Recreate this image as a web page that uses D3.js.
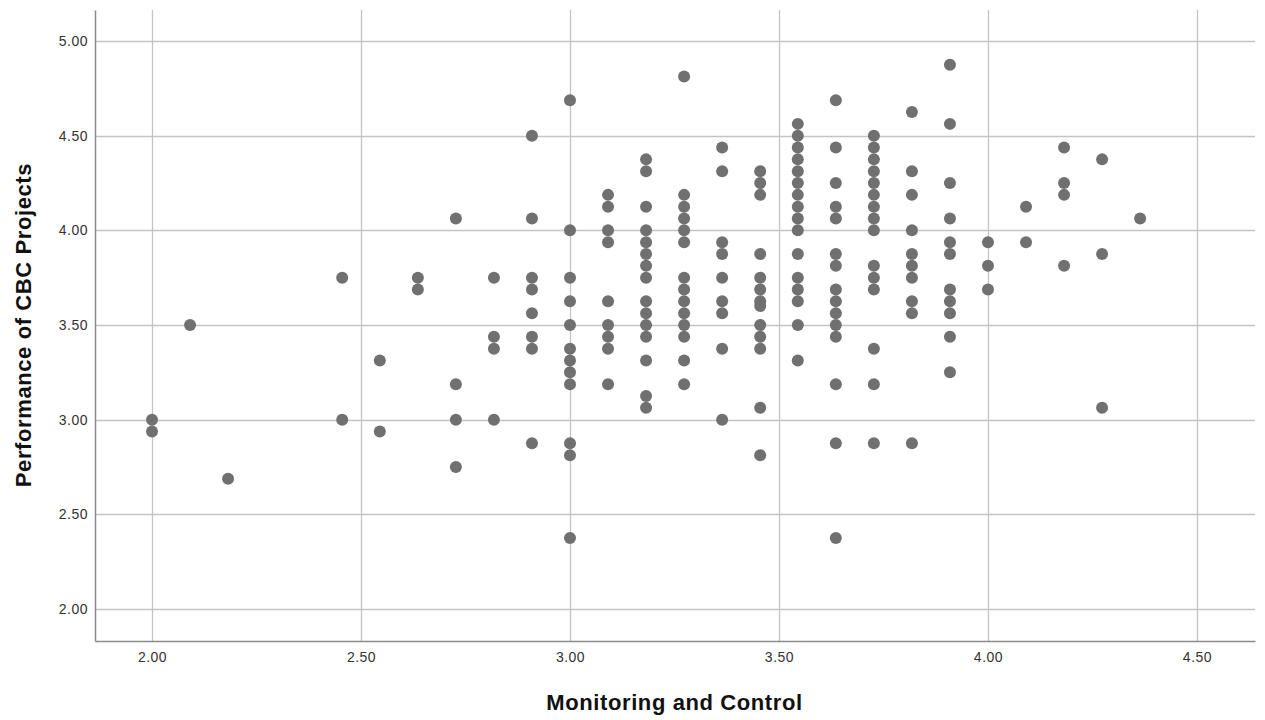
<!DOCTYPE html>
<html>
<head>
<meta charset="utf-8">
<script src="https://cdn.jsdelivr.net/npm/d3@7"></script>
<style>
  body { margin: 0; background: #fff; }
  text { font-family: Arial, "Liberation Sans", sans-serif; }
</style>
</head>
<body>
<svg id="grafica"></svg>
<script>
const svg_w = 1265;
const svg_h = 720;

// márgenes del área de trazado
const margin = {l:95, r:10, t:10, b:79};
const viz_w = svg_w - margin.l - margin.r;
const viz_h = svg_h - margin.t - margin.b;

// valores de "Monitoring and Control" (columnas)
const x_levels = [2.000, 2.091, 2.182, 2.455, 2.545, 2.636, 2.727, 2.818, 2.909,
  3.000, 3.091, 3.182, 3.273, 3.364, 3.455, 3.545, 3.636, 3.727, 3.818, 3.909,
  4.000, 4.091, 4.182, 4.273, 4.364];

// valores de "Performance of CBC Projects" para cada columna
const y_values = [
  [3.00, 2.9375],
  [3.50],
  [2.6875],
  [3.75, 3.00],
  [3.3125, 2.9375],
  [3.75, 3.6875],
  [4.0625, 3.1875, 3.00, 2.75],
  [3.75, 3.4375, 3.375, 3.00],
  [4.50, 4.0625, 3.75, 3.6875, 3.5625, 3.4375, 3.375, 2.875],
  [4.6875, 4.00, 3.75, 3.625, 3.50, 3.375, 3.3125, 3.25, 3.1875, 2.875, 2.8125, 2.375],
  [4.1875, 4.125, 4.00, 3.9375, 3.625, 3.50, 3.4375, 3.375, 3.1875],
  [4.375, 4.3125, 4.125, 4.00, 3.9375, 3.875, 3.8125, 3.75, 3.625, 3.5625, 3.50, 3.4375, 3.3125, 3.125, 3.0625],
  [4.8125, 4.1875, 4.125, 4.0625, 4.00, 3.9375, 3.75, 3.6875, 3.625, 3.5625, 3.50, 3.4375, 3.3125, 3.1875],
  [4.4375, 4.3125, 3.9375, 3.875, 3.75, 3.625, 3.5625, 3.375, 3.00],
  [4.3125, 4.25, 4.1875, 3.875, 3.75, 3.6875, 3.625, 3.60, 3.50, 3.4375, 3.375, 3.0625, 2.8125],
  [4.5625, 4.50, 4.4375, 4.375, 4.3125, 4.25, 4.1875, 4.125, 4.0625, 4.00, 3.875, 3.75, 3.6875, 3.625, 3.50, 3.3125],
  [4.6875, 4.4375, 4.25, 4.125, 4.0625, 3.875, 3.8125, 3.6875, 3.625, 3.5625, 3.50, 3.4375, 3.1875, 2.875, 2.375],
  [4.50, 4.4375, 4.375, 4.3125, 4.25, 4.1875, 4.125, 4.0625, 4.00, 3.8125, 3.75, 3.6875, 3.375, 3.1875, 2.875],
  [4.625, 4.3125, 4.1875, 4.00, 3.875, 3.8125, 3.75, 3.625, 3.5625, 2.875],
  [4.875, 4.5625, 4.25, 4.0625, 3.9375, 3.875, 3.6875, 3.625, 3.5625, 3.4375, 3.25],
  [3.9375, 3.8125, 3.6875],
  [4.125, 3.9375],
  [4.4375, 4.25, 4.1875, 3.8125],
  [4.375, 3.875, 3.0625],
  [4.0625]
];

const x_ticks = [2.0, 2.5, 3.0, 3.5, 4.0, 4.5];
const y_ticks = [2.0, 2.5, 3.0, 3.5, 4.0, 4.5, 5.0];

const x_title = "Monitoring and Control";
const y_title = "Performance of CBC Projects";

let data = [];
x_levels.forEach((x, i) => {
  y_values[i].forEach(y => data.push({x: x, y: y}));
});

let svg = d3.select("#grafica")
  .attr("width", svg_w)
  .attr("height", svg_h)

let x_scale = d3.scaleLinear()
  .domain([1.8636, 4.6388])
  .range([0, viz_w])

let y_scale = d3.scaleLinear()
  .domain([1.831, 5.164])
  .range([viz_h, 0])

let g = svg.append("g")
  .attr("transform", `translate(${margin.l},${margin.t})`)

// líneas de cuadrícula
g.append("g")
  .selectAll("line")
  .data(y_ticks)
  .enter()
  .append("line")
  .attr("x1", 0)
  .attr("x2", viz_w)
  .attr("y1", d => Math.round(y_scale(d)) + 0.5)
  .attr("y2", d => Math.round(y_scale(d)) + 0.5)
  .attr("stroke", "#c4c4c4")
  .attr("stroke-width", 1.3)

g.append("g")
  .selectAll("line")
  .data(x_ticks)
  .enter()
  .append("line")
  .attr("y1", 0)
  .attr("y2", viz_h)
  .attr("x1", d => Math.round(x_scale(d)) + 0.5)
  .attr("x2", d => Math.round(x_scale(d)) + 0.5)
  .attr("stroke", "#c4c4c4")
  .attr("stroke-width", 1.3)

// ejes
let x_axis = g.append("g")
  .attr("transform", `translate(0,${viz_h})`)
  .call(d3.axisBottom(x_scale).tickValues(x_ticks).tickFormat(d3.format(".2f")).tickSize(0).tickPadding(11))
x_axis.select(".domain").attr("stroke", "#8a8a8a").attr("stroke-width", 1.5)
x_axis.selectAll("text").attr("font-size", 14).attr("letter-spacing", 0.5).attr("fill", "#333")

let y_axis = g.append("g")
  .call(d3.axisLeft(y_scale).tickValues(y_ticks).tickFormat(d3.format(".2f")).tickSize(0).tickPadding(7))
y_axis.select(".domain").attr("stroke", "#8a8a8a").attr("stroke-width", 1.5)
y_axis.selectAll("text").attr("font-size", 14).attr("letter-spacing", 0.5).attr("fill", "#333")

// puntos
g.append("g")
  .selectAll("circle")
  .data(data)
  .enter()
  .append("circle")
  .attr("cx", d => x_scale(d.x))
  .attr("cy", d => y_scale(d.y))
  .attr("r", 6)
  .attr("fill", "#707070")

// títulos de los ejes
svg.append("text")
  .attr("x", margin.l + x_scale(3.25))
  .attr("y", 710)
  .attr("text-anchor", "middle")
  .attr("font-size", 22)
  .attr("letter-spacing", 0.6)
  .attr("font-weight", "bold")
  .attr("fill", "#111")
  .text(x_title)

svg.append("text")
  .attr("transform", `translate(31,${margin.t + y_scale(3.5)}) rotate(-90)`)
  .attr("text-anchor", "middle")
  .attr("font-size", 22)
  .attr("letter-spacing", 0.6)
  .attr("font-weight", "bold")
  .attr("fill", "#111")
  .text(y_title)
</script>
</body>
</html>
